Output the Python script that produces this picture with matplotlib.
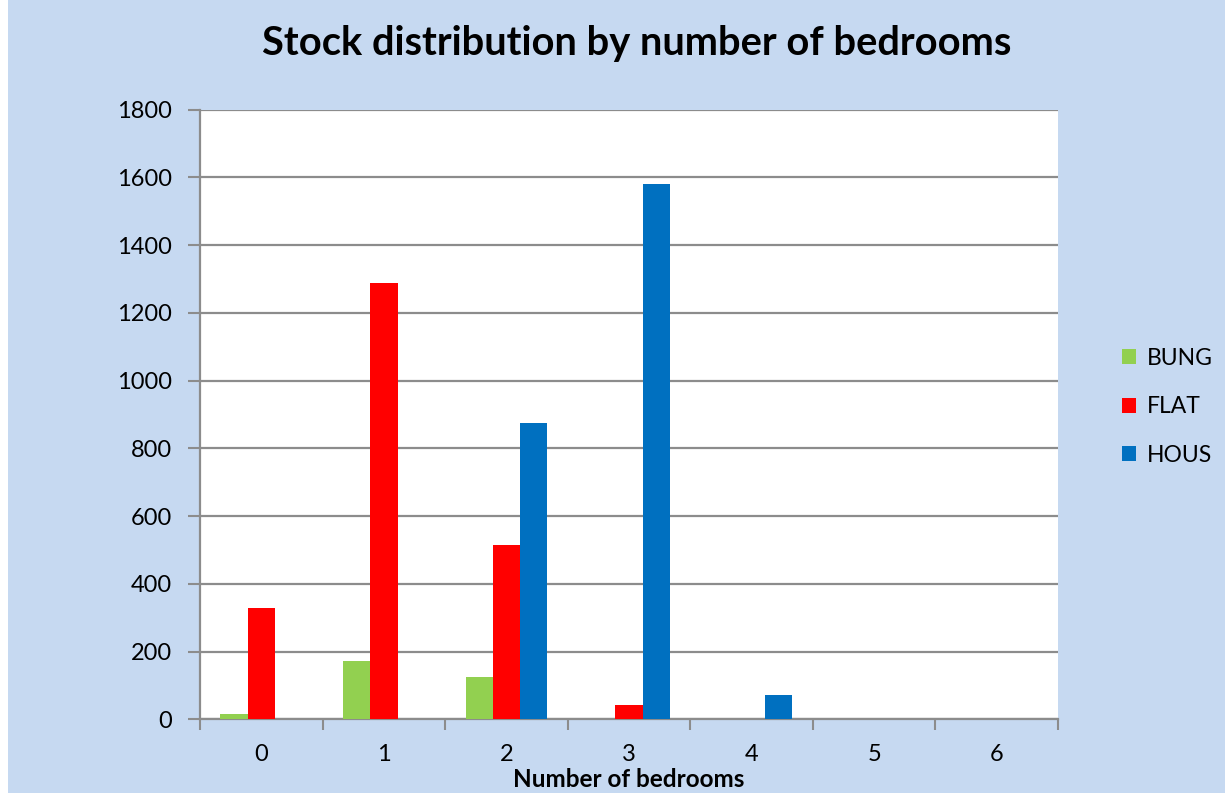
import matplotlib
matplotlib.use('Agg')
import matplotlib.pyplot as plt
import numpy as np
from matplotlib.patches import Patch, Rectangle

# values
bedrooms = ['0', '1', '2', '3', '4', '5', '6']
bung = [16, 172, 126, 0, 0, 0, 0]
flat = [329, 1287, 514, 41, 0, 0, 0]
hous = [0, 2, 875, 1580, 72, 2, 2]
series_names = ['BUNG', 'FLAT', 'HOUS']
series_colors = ['#92D050', '#FF0000', '#0070C0']
y_ticks = [0, 200, 400, 600, 800, 1000, 1200, 1400, 1600, 1800]

plt.rcParams['font.family'] = ['Lato', 'DejaVu Sans']

bg = '#C6D9F1'
grid_col = '#8C8C8C'

fig = plt.figure(figsize=(12.25, 7.93), dpi=100)
fig.patch.set_facecolor(bg)
# thin white strip on the left edge of the chart image
fig.patches.append(Rectangle((0, 0), 8 / 1225, 1, transform=fig.transFigure,
                             facecolor='white', edgecolor='none', zorder=0))
ax = fig.add_axes([0.1633, 0.0929, 0.8637 - 0.1633, 0.8619 - 0.0929])
ax.set_facecolor('white')

x = np.arange(len(bedrooms))
w = 1 / 4.5  # excel gap width 150%
for i, (vals, name, col) in enumerate(zip([bung, flat, hous], series_names, series_colors)):
    ax.bar(x + (i - 1) * w, vals, width=w, color=col, label=name, zorder=3)

ax.set_xlim(-0.5, len(bedrooms) - 0.5)
ax.set_ylim(0, 1800)
ax.set_yticks(y_ticks)
ax.set_yticklabels([str(v) for v in y_ticks], fontsize=17)
ax.yaxis.grid(True, color=grid_col, linewidth=1.6, zorder=0)
ax.tick_params(axis='y', length=9, width=1.5, color=grid_col, pad=11)

# category boundary ticks, labels at centres
ax.set_xticks(np.arange(len(bedrooms) + 1) - 0.5)
ax.set_xticklabels([])
ax.tick_params(axis='x', which='major', length=8, width=1.5, color=grid_col)
ax.set_xticks(x, minor=True)
ax.set_xticklabels(bedrooms, minor=True, fontsize=17)
ax.tick_params(axis='x', which='minor', length=0, pad=18)

ax.spines['right'].set_visible(False)
ax.spines['top'].set_visible(False)
for side in ['left', 'bottom']:
    ax.spines[side].set_color(grid_col)
    ax.spines[side].set_linewidth(1.6)

ax.set_xlabel('Number of bedrooms', fontsize=17.5, fontweight='bold', labelpad=2)

fig.text(0.52, 0.945, 'Stock distribution by number of bedrooms', ha='center', va='center',
         fontsize=28.7, fontweight='bold')

handles = [Patch(facecolor=c, edgecolor='none') for c in series_colors]
fig.legend(handles, series_names, loc='center left', bbox_to_anchor=(0.899, 0.487),
           frameon=False, fontsize=16.5, handlelength=0.6, handleheight=0.6,
           handletextpad=0.5, labelspacing=1.2)

fig.savefig('out.png', dpi=100, facecolor=bg)
